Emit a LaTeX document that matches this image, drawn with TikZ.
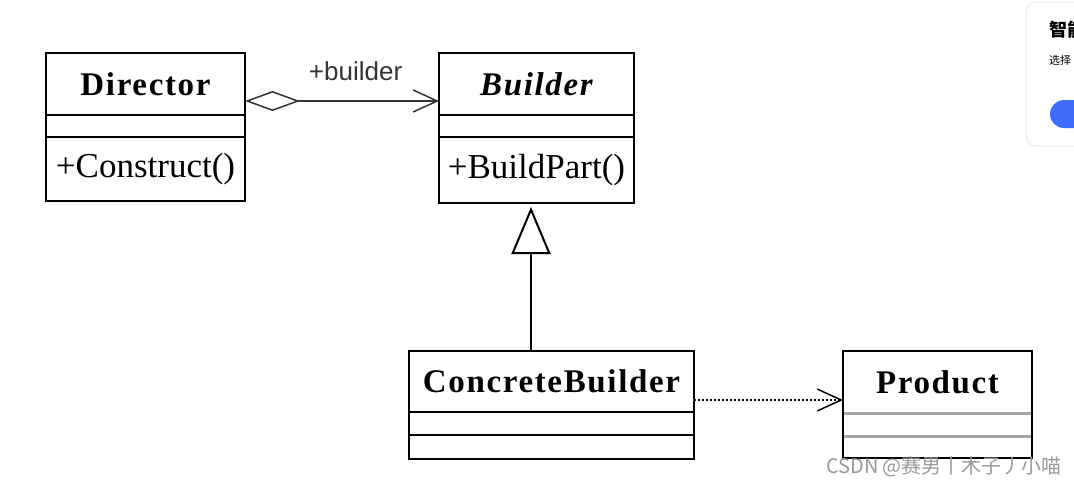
\documentclass[tikz,border=0pt]{standalone}
\usepackage{fontspec}
\setmainfont{Liberation Serif}
\newfontfamily\labelsans{Liberation Sans}
\newfontfamily\cjk{Noto Sans CJK SC}
\usetikzlibrary{shapes, arrows.meta, positioning, calc}
\definecolor{popupblue}{HTML}{3D6BFA}

\begin{document}
\begin{tikzpicture}[x=1pt, y=-1pt,
  classhead/.style={draw, line width=2pt, inner sep=0pt, outer sep=0pt, minimum height=62pt,
    font=\fontsize{33}{36}\selectfont\bfseries\addfontfeatures{LetterSpace=5}},
  compart/.style={draw, line width=2pt, inner sep=0pt, outer sep=0pt, font=\fontsize{35}{38}\selectfont},
  agg/.style={line width=1.5pt, black!80, {Diamond[open, length=55pt, width=20pt]}-{Straight Barb[length=24pt, width=22pt]}},
  inherit/.style={line width=2pt, -{Triangle[open, length=47pt, width=39pt]}, shorten >=4pt},
  dep/.style={line width=1.8pt, dash pattern=on 2pt off 2pt, -{Straight Barb[length=24pt, width=22pt, line width=1.5pt]}}]
\useasboundingbox (0,0) rectangle (1074,488);
% Director
\node[classhead, minimum width=199pt] (director) at (145.5,84) {Director};
\node[compart, minimum width=199pt, minimum height=22pt, below=0pt of director] (director-attr) {};
\node[compart, minimum width=199pt, minimum height=64pt, below=0pt of director-attr] (director-ops) {+Construct()};
% Builder
\node[classhead, minimum width=195pt] (builder) at (536.5,84) {\itshape Builder};
\node[compart, minimum width=195pt, minimum height=22pt, below=0pt of builder] (builder-attr) {};
\node[compart, minimum width=195pt, minimum height=66pt, below=0pt of builder-attr] (builder-ops) {+BuildPart()};
% ConcreteBuilder
\node[classhead, minimum width=285pt, minimum height=61pt] (concrete) at (551.5,381.5) {ConcreteBuilder};
\node[compart, minimum width=285pt, minimum height=23pt, below=0pt of concrete] (concrete-attr) {};
\node[compart, minimum width=285pt, minimum height=24pt, below=0pt of concrete-attr] (concrete-ops) {};
% Product
\node[classhead, minimum width=189pt] (product) at (937.5,382) {Product};
\node[compart, minimum width=189pt, minimum height=23pt, below=0pt of product] (product-attr) {};
\node[compart, minimum width=189pt, minimum height=22pt, below=0pt of product-attr] (product-ops) {};
\draw[line width=3pt, black!35] ([xshift=1pt]product.south west) -- ([xshift=-1pt]product.south east);
\draw[line width=3pt, black!35] ([xshift=1pt]product-attr.south west) -- ([xshift=-1pt]product-attr.south east);
% Relations
\draw[agg] ([yshift=-17pt]director.east) -- node[pos=0.57, yshift=30pt, font=\labelsans\fontsize{26}{28}\selectfont]{+builder} ([yshift=-17pt]builder.west);
\draw[inherit] ([xshift=-20.5pt]concrete.north) -- ([xshift=-5.5pt]builder-ops.south);
\draw[dep] ([yshift=-18.5pt]concrete.east) -- ([yshift=-18pt]product.west);
% Watermark
\node[font=\cjk\fontsize{20}{24}\selectfont, text=black!40] (watermark) at (944,467) {CSDN @赛男丨木子丿小喵};
% Popup
\draw[black!8, line width=1pt, fill=white, rounded corners=10pt] (1026,2) rectangle (1110,146);
\node[anchor=west, inner sep=0pt, font=\cjk\bfseries\fontsize{18}{20}\selectfont] (popup-title) at (1049,30) {智能};
\node[anchor=west, inner sep=0pt, font=\cjk\fontsize{11}{13}\selectfont] (popup-hint) at (1049,60) {选择};
\fill[popupblue, rounded corners=14pt] (1050,100) rectangle (1120,128);
\end{tikzpicture}
\end{document}
